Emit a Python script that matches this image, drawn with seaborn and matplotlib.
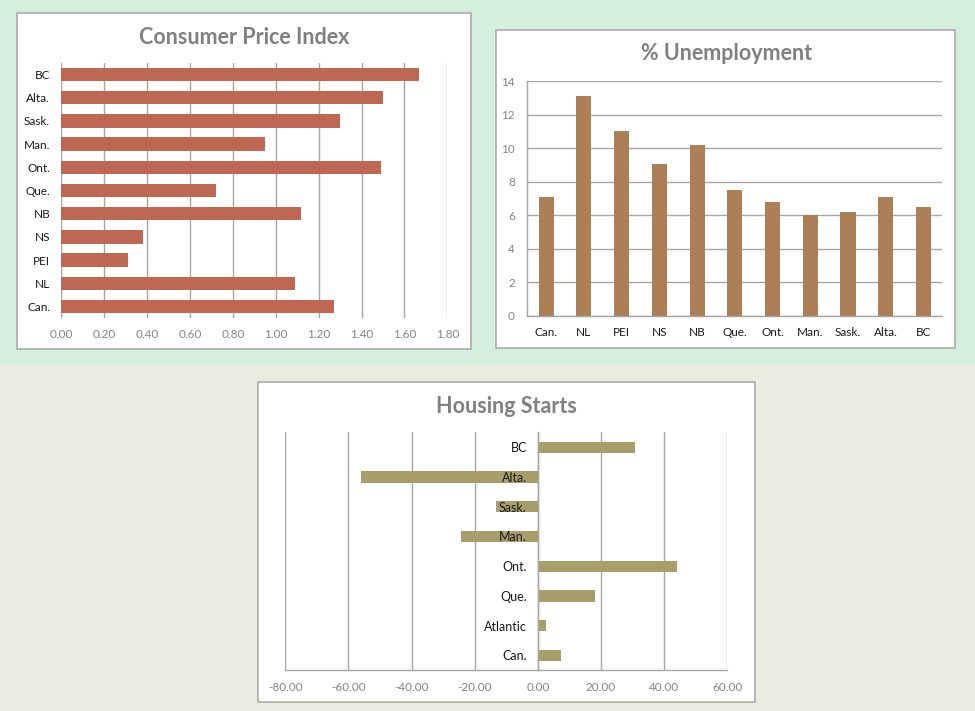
# Canadian regional indicators - three Excel-style panels

import numpy as np
import matplotlib
matplotlib.use("Agg")
import matplotlib.pyplot as plt
import matplotlib.patches as mpatches
from matplotlib.ticker import FixedLocator, FormatStrFormatter
import seaborn as sns

# ==========================================
# DATA
# ==========================================

cpi_regions = ["BC", "Alta.", "Sask.", "Man.", "Ont.", "Que.", "NB", "NS", "PEI", "NL", "Can."]
cpi_values = [1.67, 1.50, 1.30, 0.95, 1.49, 0.72, 1.12, 0.38, 0.31, 1.09, 1.27]
cpi_ticks = [0.0, 0.2, 0.4, 0.6, 0.8, 1.0, 1.2, 1.4, 1.6, 1.8]

unemp_regions = ["Can.", "NL", "PEI", "NS", "NB", "Que.", "Ont.", "Man.", "Sask.", "Alta.", "BC"]
unemp_values = [7.1, 13.1, 11.0, 9.05, 10.2, 7.5, 6.8, 6.0, 6.2, 7.1, 6.5]
unemp_ticks = [0, 2, 4, 6, 8, 10, 12, 14]

housing_regions = ["BC", "Alta.", "Sask.", "Man.", "Ont.", "Que.", "Atlantic", "Can."]
housing_values = [30.7, -56.1, -13.3, -24.4, 44.0, 18.1, 2.5, 7.3]
housing_ticks = [-80, -60, -40, -20, 0, 20, 40, 60]

# ==========================================
# STYLE
# ==========================================

sns.set_theme(style="white")
plt.rcParams["font.family"] = ["Lato", "DejaVu Sans"]

W, H = 975, 711
GRID = "#a6a6a6"
TITLE = "#808080"
NUM = "#848484"
CAT = "#1a1a1a"
TITLE_SIZE = 15.5

fig = plt.figure(figsize=(W / 100, H / 100), dpi=100)


def box(x0, y0, x1, y1):
    # pixel box (top-left origin) -> figure fraction rect
    return [x0 / W, 1 - y1 / H, (x1 - x0) / W, (y1 - y0) / H]


def panel(x0, y0, x1, y1):
    r = box(x0, y0, x1, y1)
    fig.patches.append(mpatches.Rectangle(
        (r[0], r[1]), r[2], r[3], transform=fig.transFigure,
        facecolor="white", edgecolor="#a5a5a5", linewidth=1.1, zorder=-1))


# background bands
fig.patches.append(mpatches.Rectangle((0, 1 - 365 / H), 1, 365 / H, transform=fig.transFigure,
                                      facecolor="#d4efde", edgecolor="none", zorder=-3))
fig.patches.append(mpatches.Rectangle((0, 0), 1, 1 - 365 / H, transform=fig.transFigure,
                                      facecolor="#ebebe0", edgecolor="none", zorder=-3))

panel(17.3, 13.3, 471, 349)
panel(496.3, 30, 955.3, 348.3)
panel(257.7, 382.3, 754.7, 702.3)

# ==========================================
# CONSUMER PRICE INDEX
# ==========================================

ax1 = fig.add_axes(box(61.3, 63, 447.3, 318))
ax1.set_facecolor("none")
sns.barplot(x=cpi_values, y=cpi_regions, orient="h", color="#be6753",
            width=0.58, saturation=1, linewidth=0, ax=ax1)
ax1.set_xlim(0, 1.8)
ax1.set_xticks(cpi_ticks)
ax1.xaxis.set_major_formatter(FormatStrFormatter("%.2f"))
ax1.set_axisbelow(True)
ax1.grid(axis="x", color=GRID, linewidth=1)
ax1.grid(axis="y", visible=False)
for s in ax1.spines.values():
    s.set_visible(False)
ax1.tick_params(axis="x", length=0, pad=8, labelcolor=NUM, labelsize=8.5)
ax1.tick_params(axis="y", length=0, pad=8, labelcolor=CAT, labelsize=8.5)
ax1.set_xlabel("")
ax1.set_ylabel("")

fig.text(244.5 / W, 1 - 44 / H, "Consumer Price Index", ha="center", va="baseline",
         fontsize=TITLE_SIZE, fontweight="bold", color=TITLE)

# ==========================================
# % UNEMPLOYMENT
# ==========================================

ax2 = fig.add_axes(box(527.3, 81, 942.3, 316))
ax2.set_facecolor("none")
sns.barplot(x=unemp_regions, y=unemp_values, color="#ad7f57",
            width=0.4, saturation=1, linewidth=0, ax=ax2)
ax2.set_ylim(0, 14)
ax2.set_yticks(unemp_ticks)
ax2.set_axisbelow(True)
ax2.grid(axis="y", color=GRID, linewidth=1)
ax2.grid(axis="x", visible=False)
for k in ["top", "right"]:
    ax2.spines[k].set_visible(False)
for k in ["left", "bottom"]:
    ax2.spines[k].set_color(GRID)
    ax2.spines[k].set_linewidth(1)
ax2.tick_params(axis="y", length=0, pad=9, labelcolor=NUM, labelsize=8.5)
ax2.tick_params(axis="x", length=0, pad=8, labelcolor=CAT, labelsize=8.5)
ax2.set_xlabel("")
ax2.set_ylabel("")

fig.text(726.3 / W, 1 - 60 / H, "% Unemployment", ha="center", va="baseline",
         fontsize=TITLE_SIZE, fontweight="bold", color=TITLE)

# ==========================================
# HOUSING STARTS
# ==========================================

ax3 = fig.add_axes(box(285.3, 432.3, 727.3, 670.3))
ax3.set_facecolor("none")
sns.barplot(x=housing_values, y=housing_regions, orient="h", color="#a89e69",
            width=0.38, saturation=1, linewidth=0, ax=ax3)
ax3.set_xlim(-80, 60)
ax3.set_xticks(housing_ticks)
ax3.xaxis.set_major_formatter(FormatStrFormatter("%.2f"))
ax3.set_ylim(len(housing_regions) - 0.5, -0.5)
ax3.yaxis.set_minor_locator(FixedLocator(np.arange(-0.5, len(housing_regions), 1)))
ax3.set_axisbelow(True)
ax3.grid(axis="x", color=GRID, linewidth=1)
ax3.grid(axis="y", visible=False)
ax3.spines["left"].set_position(("data", 0))
for k in ["top", "right"]:
    ax3.spines[k].set_visible(False)
for k in ["left", "bottom"]:
    ax3.spines[k].set_color(GRID)
    ax3.spines[k].set_linewidth(1)
ax3.tick_params(axis="x", length=2.5, width=1, color=GRID, direction="out",
                pad=6, labelcolor=NUM, labelsize=8.5)
ax3.tick_params(axis="y", which="major", length=0, pad=8, labelcolor=CAT, labelsize=9)
ax3.tick_params(axis="y", which="minor", length=3.8, width=1, color=GRID, direction="out")
ax3.yaxis.set_zorder(4)
ax3.set_xlabel("")
ax3.set_ylabel("")

fig.text(506.3 / W, 1 - 413.3 / H, "Housing Starts", ha="center", va="baseline",
         fontsize=TITLE_SIZE, fontweight="bold", color=TITLE)

fig.savefig("out.png", dpi=100)
